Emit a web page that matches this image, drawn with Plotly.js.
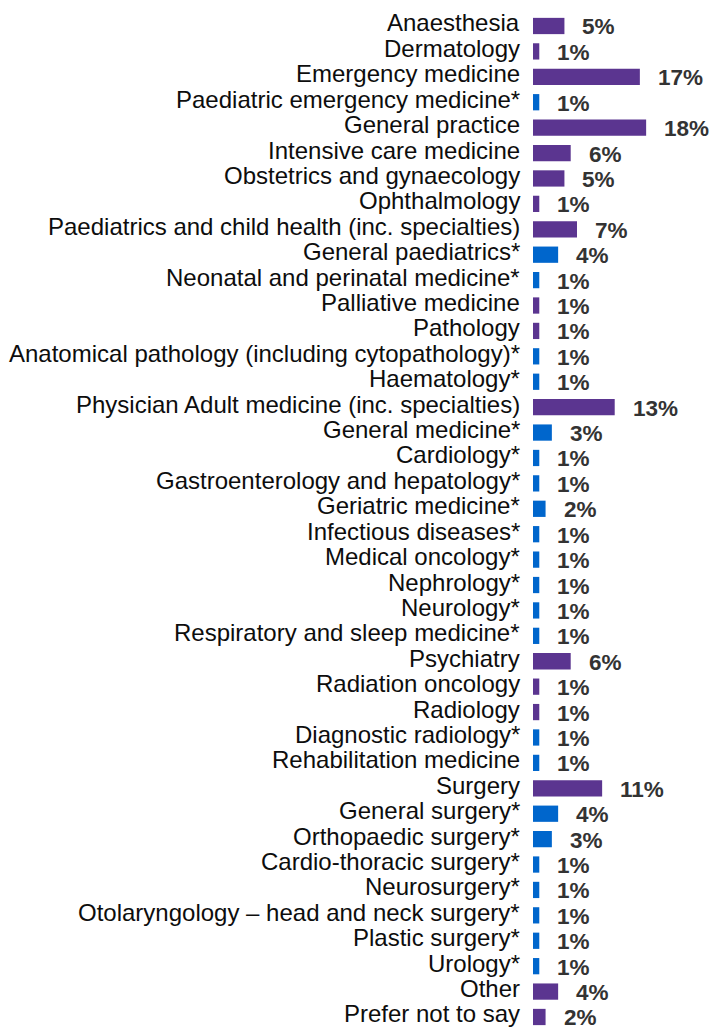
<!DOCTYPE html>
<html>
<head>
<meta charset="utf-8">
<script src="https://cdn.plot.ly/plotly-3.0.1.min.js"></script>
<style>html,body{margin:0;padding:0;background:#fff;}#chart{width:710px;height:1033px;}</style>
</head>
<body>
<div id="chart"></div>
<script>
var categories = [
  "Anaesthesia","Dermatology","Emergency medicine","Paediatric emergency medicine*",
  "General practice","Intensive care medicine","Obstetrics and gynaecology","Ophthalmology",
  "Paediatrics and child health (inc. specialties)","General paediatrics*",
  "Neonatal and perinatal medicine*","Palliative medicine","Pathology",
  "Anatomical pathology (including cytopathology)*","Haematology*",
  "Physician Adult medicine (inc. specialties)","General medicine*","Cardiology*",
  "Gastroenterology and hepatology*","Geriatric medicine*","Infectious diseases*",
  "Medical oncology*","Nephrology*","Neurology*","Respiratory and sleep medicine*",
  "Psychiatry","Radiation oncology","Radiology","Diagnostic radiology*",
  "Rehabilitation medicine","Surgery","General surgery*","Orthopaedic surgery*",
  "Cardio-thoracic surgery*","Neurosurgery*","Otolaryngology \u2013 head and neck surgery*",
  "Plastic surgery*","Urology*","Other","Prefer not to say"
];
var values = [5,1,17,1,18,6,5,1,7,4,1,1,1,1,1,13,3,1,1,2,1,1,1,1,1,6,1,1,1,1,11,4,3,1,1,1,1,1,4,2];
// group: "main" = purple, "sub" = blue
var groups = ["main","main","main","sub","main","main","main","main","main","sub","sub","main","main","sub","sub","main","sub","sub","sub","sub","sub","sub","sub","sub","sub","main","main","main","sub","sub","main","sub","sub","sub","sub","sub","sub","sub","main","main"];
var valueLabels = values.map(function(v){return v + "%";});

var PURPLE = "#5B3590", BLUE = "#0066CC";
var colors = groups.map(function(g){return g === "main" ? PURPLE : BLUE;});

var trace = {
  type: "bar",
  orientation: "h",
  x: values,
  y: categories,
  width: 0.64,
  marker: {color: colors, line: {width: 0}},
  hoverinfo: "none"
};

var valueAnns = categories.map(function(c, i){
  return {
    x: values[i], y: c, xref: "x", yref: "y",
    text: valueLabels[i], showarrow: false,
    xanchor: "left", yanchor: "middle", xshift: 16, yshift: -1,
    font: {family: "Liberation Sans, Arial, sans-serif", size: 22.5, color: "#333333", weight: "bold"}
  };
});
var catAnns = categories.map(function(c){
  return {
    x: 0, y: c, xref: "paper", yref: "y",
    text: c, showarrow: false,
    xanchor: "right", yanchor: "middle", xshift: -11, yshift: 3,
    font: {family: "Liberation Sans, Arial, sans-serif", size: 24, color: "#0d0d0d"}
  };
});

var layout = {
  width: 710, height: 1033,
  margin: {l: 533, r: 1, t: 0, b: 0, pad: 0},
  paper_bgcolor: "#ffffff", plot_bgcolor: "#ffffff",
  showlegend: false,
  xaxis: {range: [0, 28], visible: false, fixedrange: true},
  yaxis: {
    type: "category",
    range: [39.63, -1.023],
    showticklabels: false,
    showgrid: false, zeroline: false, showline: false, ticks: "",
    automargin: false, fixedrange: true
  },
  annotations: catAnns.concat(valueAnns)
};

Plotly.newPlot("chart", [trace], layout, {displayModeBar: false, staticPlot: true});
</script>
</body>
</html>
